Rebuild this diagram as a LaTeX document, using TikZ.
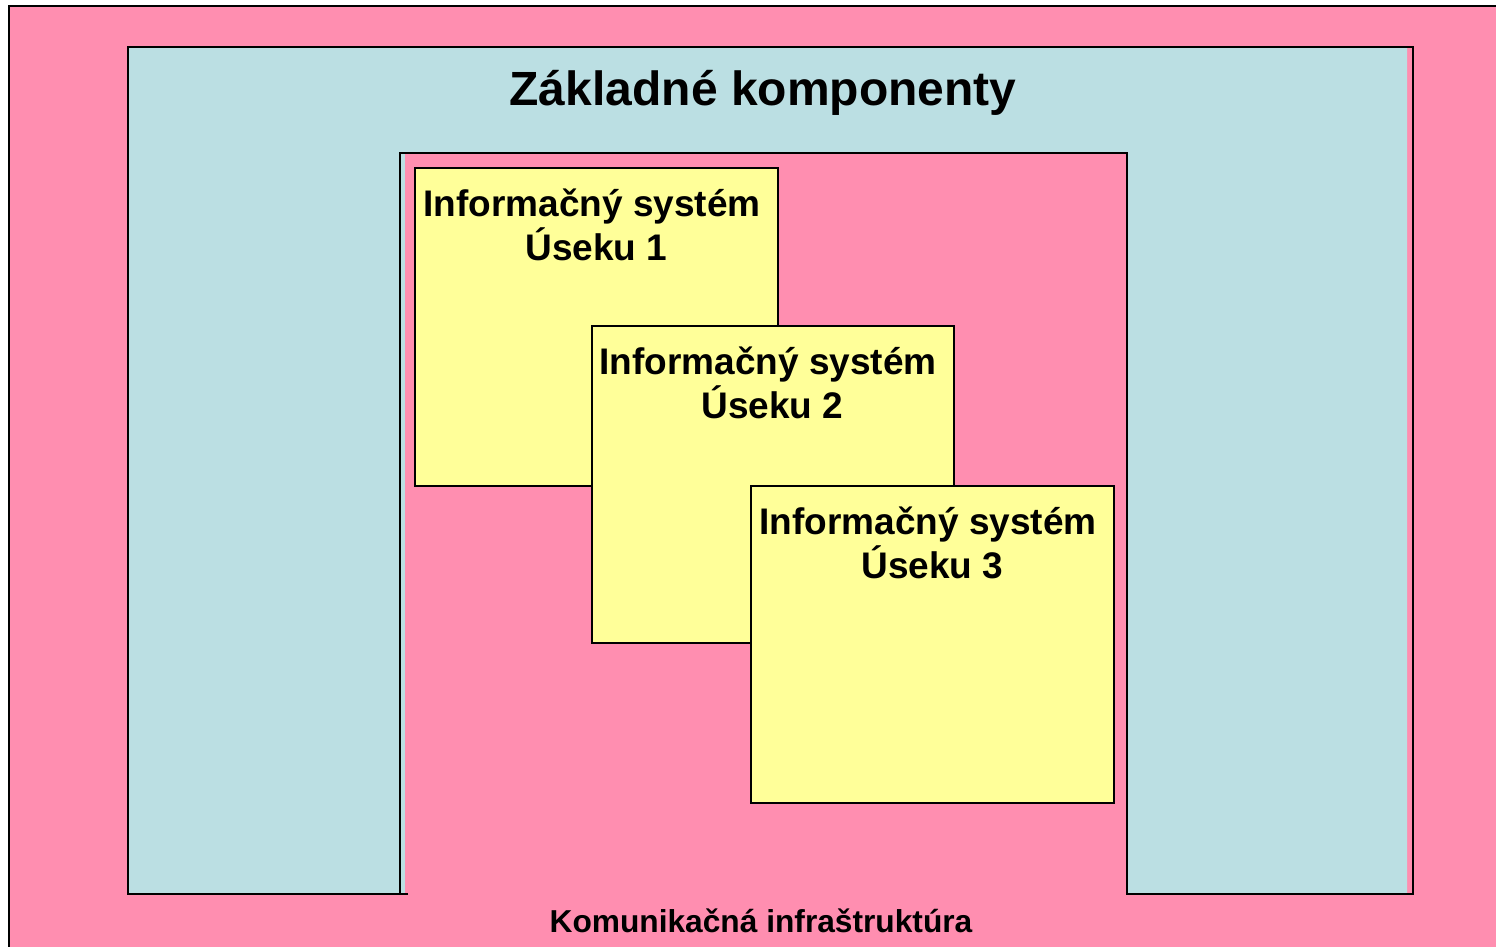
\documentclass[tikz,border=0pt]{standalone}
\usepackage{fontspec}
\setmainfont{Liberation Sans}
\definecolor{pinkbg}{RGB}{255,142,176}
\definecolor{bluebg}{RGB}{187,223,227}
\definecolor{yellowbg}{RGB}{255,255,153}
\begin{document}
\begin{tikzpicture}[x=1pt,y=-1pt,
  ybox/.style={draw=black,line width=1.5pt,fill=yellowbg},
  boxlabel/.style={font=\fontsize{37}{44}\selectfont\bfseries,align=center,anchor=base,inner sep=0pt},
  outline/.style={draw=black,line width=2pt}]
\useasboundingbox (0,0) rectangle (1496,946);
\fill[white] (0,0) rectangle (1496,946);
\begin{scope}
\clip (0,0) rectangle (1496,946);
\filldraw[fill=pinkbg,outline] (9,6) rectangle (1510,960);
\end{scope}
% blue U
\fill[bluebg] (128,47) -- (1407,47) -- (1407,894) -- (1127,894) -- (1127,153) -- (400,153) -- (400,894) -- (128,894) -- cycle;
\fill[bluebg] (400,153) rectangle (405,894);
\draw[outline] (408,894) -- (128,894) -- (128,47) -- (1413,47) -- (1413,894) -- (1127,894) -- (1127,153) -- (400,153) -- (400,894);
\node[font=\fontsize{48}{56}\selectfont\bfseries,anchor=base,inner sep=0pt] (title) at (763,105) {Základné komponenty};
% boxes
\draw[ybox] (415,168) rectangle (778,486);
\node[boxlabel] (l1) at (592,260) {Informačný systém\\\hspace*{9pt}Úseku 1};
\draw[ybox] (592,326) rectangle (954,643);
\node[boxlabel] (l2) at (768,418) {Informačný systém\\\hspace*{9pt}Úseku 2};
\draw[ybox] (751,486) rectangle (1114,803);
\node[boxlabel] (l3) at (928,578) {Informačný systém\\\hspace*{9pt}Úseku 3};
\node[font=\fontsize{31.7}{38}\selectfont\bfseries,anchor=base,inner sep=0pt] (infra) at (761,932) {Komunikačná infraštruktúra};
\end{tikzpicture}
\end{document}
